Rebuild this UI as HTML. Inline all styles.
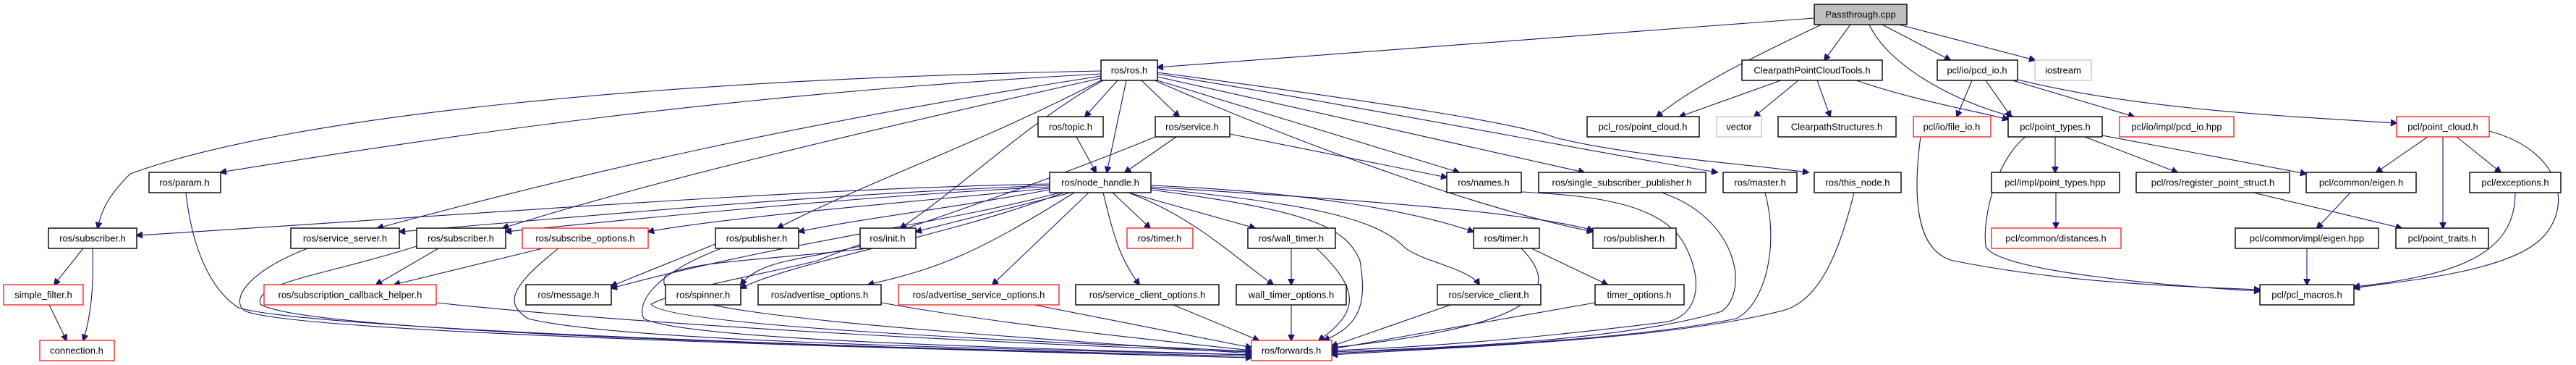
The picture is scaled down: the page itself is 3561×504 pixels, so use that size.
<!DOCTYPE html>
<html><head><meta charset="utf-8"><style>
html,body{margin:0;padding:0;background:#fff;}
svg{display:block;}
text{font-family:"Liberation Sans",sans-serif;font-size:13px;text-anchor:middle;dominant-baseline:central;fill:#000;}
.b{fill:#fff;stroke:#000;stroke-width:1.4;}
.r{fill:#fff;stroke:#ff0000;stroke-width:1.2;}
.g{fill:#fff;stroke:#bfbfbf;stroke-width:1.2;}
.p{fill:#bfbfbf;stroke:#000;stroke-width:1.4;}
path{fill:none;stroke:#191970;stroke-width:1.1;marker-end:url(#a);}
</style></head><body>
<svg width="3561" height="504" viewBox="0 0 3561 504" xmlns="http://www.w3.org/2000/svg">
<defs><marker id="a" viewBox="0 0 10 10" refX="9" refY="5" markerWidth="9" markerHeight="9" markerUnits="userSpaceOnUse" orient="auto"><path d="M0,0 L10,5 L0,10 z" style="fill:#191970;stroke:#191970;marker-end:none"/></marker></defs>
<g>
<!-- Passthrough edges -->
<path d="M2508,25 L1600,93"/>
<path d="M2518,34 C2420,80 2340,120 2290,161"/>
<path d="M2558,34 L2522,83"/>
<path d="M2602,34 L2696,83"/>
<path d="M2625,34 L2813,83"/>
<path d="M2584,34 C2610,90 2700,140 2782,161"/>
<!-- Clearpath tools -->
<path d="M2462,111 L2322,161"/>
<path d="M2486,111 L2425,161"/>
<path d="M2512,111 L2530,161"/>
<path d="M2566,111 C2650,140 2740,155 2776,165"/>
<!-- pcd_io -->
<path d="M2726,111 L2705,161"/>
<path d="M2745,111 L2780,161"/>
<path d="M2782,111 L2950,161"/>
<path d="M2789,110 C2950,150 3150,160 3313,170"/>
<path d="M2655,189 C2640,300 2660,350 2700,360 C2850,390 3000,395 3124,400"/>
<!-- point_types -->
<path d="M2841,189 L2841,238"/>
<path d="M2882,189 L3010,238"/>
<path d="M2906,187 L3188,240"/>
<path d="M2800,189 C2760,220 2740,300 2745,340 C2760,375 3000,395 3124,402"/>
<!-- point_cloud -->
<path d="M3356,189 L3285,238"/>
<path d="M3377,189 L3377,315"/>
<path d="M3396,189 L3457,238"/>
<path d="M3441,181 C3550,210 3560,300 3500,340 C3440,380 3300,390 3254,398"/>
<path d="M2842,266 L2842,315"/>
<path d="M3115,266 L3320,315"/>
<path d="M3249,266 L3203,315"/>
<path d="M3189,343 L3189,393"/>
<path d="M3477,266 C3477,350 3400,380 3254,396"/>
<!-- ros.h -->
<path d="M1522,98 C900,110 400,160 180,240 C150,270 140,290 135,315"/>
<path d="M1522,102 C1000,130 600,190 305,238"/>
<path d="M1522,105 C1100,170 800,240 522,315"/>
<path d="M1522,108 C1200,180 900,250 695,315"/>
<path d="M1545,111 L1500,161"/>
<path d="M1578,111 L1630,161"/>
<path d="M1557,111 L1530,238"/>
<path d="M1522,111 C1350,200 1200,250 1075,315"/>
<path d="M1525,111 C1420,170 1340,250 1245,315"/>
<path d="M1600,111 L2017,238"/>
<path d="M1600,106 L2190,238"/>
<path d="M1600,102 C1900,150 2200,210 2374,238"/>
<path d="M1600,100 C1900,140 2100,170 2150,190 C2250,215 2400,225 2500,238"/>
<path d="M1596,111 C1800,200 2050,290 2202,320"/>
<!-- topic / service -->
<path d="M1488,189 L1515,238"/>
<path d="M1626,189 L1555,238"/>
<path d="M1700,185 L2000,245"/>
<path d="M1597,189 C1400,270 1200,330 1130,360 C1050,380 950,395 900,420 C920,450 1400,470 1730,485"/>
<!-- node_handle -->
<path d="M1451,254 C1100,260 600,300 189,325"/>
<path d="M1451,256 C1100,270 800,300 552,320"/>
<path d="M1451,258 C1200,270 900,300 699,320"/>
<path d="M1451,260 C1300,275 1000,300 896,320"/>
<path d="M1451,262 C1300,290 1200,300 1104,320"/>
<path d="M1480,266 L1266,320"/>
<path d="M1470,266 C1300,330 1100,360 1024,398"/>
<path d="M1485,266 C1350,350 1300,370 1200,393"/>
<path d="M1505,266 L1372,393"/>
<path d="M1525,266 C1540,330 1550,360 1575,393"/>
<path d="M1538,266 L1590,315"/>
<path d="M1560,266 L1735,315"/>
<path d="M1560,266 C1650,300 1700,350 1760,393"/>
<path d="M1591,256 C1800,265 1950,290 2037,320"/>
<path d="M1591,258 C1850,275 2100,290 2202,318"/>
<path d="M1591,260 C1800,280 1900,300 1940,340 C1960,360 2030,370 2045,393"/>
<path d="M1591,262 C1800,290 1860,310 1880,360 C1890,420 1880,450 1830,470"/>
<path d="M1465,266 C1300,310 1100,330 845,398"/>
<!-- left cluster -->
<path d="M1189,340 C1100,360 1050,360 1024,393"/>
<path d="M989,337 L845,395"/>
<path d="M1200,343 C1050,360 960,360 920,380 C900,420 1000,440 1730,488"/>
<path d="M997,343 C900,380 880,420 890,440 C950,470 1400,480 1730,490"/>
<path d="M606,343 L520,393"/>
<path d="M750,343 L545,393"/>
<path d="M576,340 C450,380 350,390 360,420 C420,460 1200,480 1730,492"/>
<path d="M772,343 C700,400 700,420 730,440 C850,470 1300,480 1730,490"/>
<path d="M425,343 C330,380 320,420 340,430 C420,460 1200,480 1730,494"/>
<path d="M257,266 C265,340 290,400 330,425 C430,455 1200,480 1730,494"/>
<path d="M603,418 C900,450 1400,475 1730,486"/>
<path d="M115,343 L75,393"/>
<path d="M128,343 C130,400 125,440 115,470"/>
<path d="M68,421 L92,470"/>
<path d="M1218,418 C1400,450 1600,470 1730,484"/>
<path d="M1430,421 L1730,480"/>
<path d="M1622,421 L1740,470"/>
<path d="M1785,343 L1785,393"/>
<path d="M1785,421 L1785,470"/>
<path d="M1820,343 C1880,400 1880,430 1823,470"/>
<path d="M2103,343 C2160,400 2130,450 1841,480"/>
<path d="M2117,343 L2222,393"/>
<path d="M2005,421 L1841,478"/>
<path d="M2205,418 L1841,482"/>
<path d="M2103,265 C2200,270 2300,280 2330,340 C2360,400 2340,440 2300,445 C2100,470 1950,480 1841,484"/>
<path d="M2297,266 C2400,300 2420,400 2380,430 C2250,470 2000,480 1841,486"/>
<path d="M2440,266 C2460,340 2440,420 2400,440 C2250,470 2000,480 1841,488"/>
<path d="M2563,266 C2540,360 2510,420 2460,430 C2300,470 2000,480 1841,490"/>
</g>
<!-- nodes -->
<rect class="p" x="2508" y="6" width="128" height="28"/><text x="2572" y="20">Passthrough.cpp</text>
<rect class="b" x="1522" y="83" width="78" height="28"/><text x="1561" y="97">ros/ros.h</text>
<rect class="b" x="2408" y="83" width="194" height="28"/><text x="2505" y="97">ClearpathPointCloudTools.h</text>
<rect class="b" x="2678" y="83" width="111" height="28"/><text x="2733" y="97">pcl/io/pcd_io.h</text>
<rect class="g" x="2813" y="83" width="78" height="28"/><text x="2852" y="97">iostream</text>
<rect class="b" x="1435" y="161" width="90" height="28"/><text x="1480" y="175">ros/topic.h</text>
<rect class="b" x="1597" y="161" width="103" height="28"/><text x="1648" y="175">ros/service.h</text>
<rect class="b" x="2194" y="161" width="155" height="28"/><text x="2271" y="175">pcl_ros/point_cloud.h</text>
<rect class="g" x="2373" y="161" width="62" height="28"/><text x="2404" y="175">vector</text>
<rect class="b" x="2458" y="161" width="163" height="28"/><text x="2539" y="175">ClearpathStructures.h</text>
<rect class="r" x="2645" y="161" width="107" height="28"/><text x="2698" y="175">pcl/io/file_io.h</text>
<rect class="b" x="2776" y="161" width="130" height="28"/><text x="2841" y="175">pcl/point_types.h</text>
<rect class="r" x="2930" y="161" width="158" height="28"/><text x="3009" y="175">pcl/io/impl/pcd_io.hpp</text>
<rect class="r" x="3313" y="161" width="128" height="28"/><text x="3377" y="175">pcl/point_cloud.h</text>
<rect class="b" x="206" y="238" width="99" height="28"/><text x="255" y="252">ros/param.h</text>
<rect class="b" x="1451" y="238" width="140" height="28"/><text x="1521" y="252">ros/node_handle.h</text>
<rect class="b" x="2000" y="238" width="103" height="28"/><text x="2051" y="252">ros/names.h</text>
<rect class="b" x="2127" y="238" width="231" height="28"/><text x="2242" y="252">ros/single_subscriber_publisher.h</text>
<rect class="b" x="2382" y="238" width="102" height="28"/><text x="2433" y="252">ros/master.h</text>
<rect class="b" x="2508" y="238" width="120" height="28"/><text x="2568" y="252">ros/this_node.h</text>
<rect class="b" x="2753" y="238" width="177" height="28"/><text x="2841" y="252">pcl/impl/point_types.hpp</text>
<rect class="b" x="2953" y="238" width="212" height="28"/><text x="3059" y="252">pcl/ros/register_point_struct.h</text>
<rect class="b" x="3188" y="238" width="152" height="28"/><text x="3264" y="252">pcl/common/eigen.h</text>
<rect class="b" x="3414" y="238" width="126" height="28"/><text x="3477" y="252">pcl/exceptions.h</text>
<rect class="b" x="67" y="315" width="122" height="28"/><text x="128" y="329">ros/subscriber.h</text>
<rect class="b" x="402" y="315" width="150" height="28"/><text x="477" y="329">ros/service_server.h</text>
<rect class="b" x="576" y="315" width="123" height="28"/><text x="637" y="329">ros/subscriber.h</text>
<rect class="r" x="722" y="315" width="174" height="28"/><text x="809" y="329">ros/subscribe_options.h</text>
<rect class="b" x="989" y="315" width="115" height="28"/><text x="1046" y="329">ros/publisher.h</text>
<rect class="b" x="1189" y="315" width="77" height="28"/><text x="1227" y="329">ros/init.h</text>
<rect class="r" x="1558" y="315" width="91" height="28"/><text x="1603" y="329">ros/timer.h</text>
<rect class="b" x="1725" y="315" width="121" height="28"/><text x="1785" y="329">ros/wall_timer.h</text>
<rect class="b" x="2037" y="315" width="91" height="28"/><text x="2082" y="329">ros/timer.h</text>
<rect class="b" x="2202" y="315" width="115" height="28"/><text x="2259" y="329">ros/publisher.h</text>
<rect class="r" x="2753" y="315" width="179" height="28"/><text x="2842" y="329">pcl/common/distances.h</text>
<rect class="b" x="3090" y="315" width="198" height="28"/><text x="3189" y="329">pcl/common/impl/eigen.hpp</text>
<rect class="b" x="3312" y="315" width="128" height="28"/><text x="3376" y="329">pcl/point_traits.h</text>
<rect class="r" x="5" y="393" width="110" height="28"/><text x="60" y="407">simple_filter.h</text>
<rect class="r" x="365" y="393" width="238" height="28"/><text x="484" y="407">ros/subscription_callback_helper.h</text>
<rect class="b" x="727" y="393" width="118" height="28"/><text x="786" y="407">ros/message.h</text>
<rect class="b" x="920" y="393" width="104" height="28"/><text x="972" y="407">ros/spinner.h</text>
<rect class="b" x="1048" y="393" width="170" height="28"/><text x="1133" y="407">ros/advertise_options.h</text>
<rect class="r" x="1242" y="393" width="222" height="28"/><text x="1353" y="407">ros/advertise_service_options.h</text>
<rect class="b" x="1487" y="393" width="198" height="28"/><text x="1586" y="407">ros/service_client_options.h</text>
<rect class="b" x="1709" y="393" width="152" height="28"/><text x="1785" y="407">wall_timer_options.h</text>
<rect class="b" x="1987" y="393" width="143" height="28"/><text x="2058" y="407">ros/service_client.h</text>
<rect class="b" x="2205" y="393" width="123" height="28"/><text x="2266" y="407">timer_options.h</text>
<rect class="b" x="3124" y="393" width="130" height="28"/><text x="3189" y="407">pcl/pcl_macros.h</text>
<rect class="r" x="55" y="470" width="103" height="28"/><text x="106" y="484">connection.h</text>
<rect class="r" x="1730" y="470" width="111" height="28"/><text x="1785" y="484">ros/forwards.h</text>
</svg>
</body></html>
